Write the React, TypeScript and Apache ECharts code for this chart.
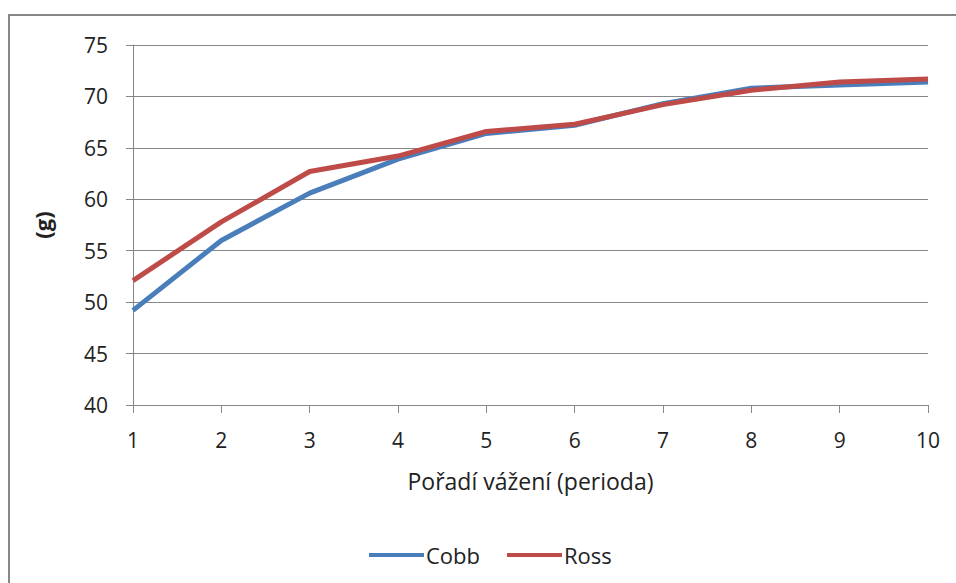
import React, { useEffect, useRef } from "react";
import * as echarts from "echarts";

const periods = ["1", "2", "3", "4", "5", "6", "7", "8", "9", "10"];
const cobb = [49.2, 56.0, 60.6, 63.9, 66.4, 67.2, 69.3, 70.8, 71.1, 71.4];
const ross = [52.1, 57.8, 62.7, 64.2, 66.6, 67.3, 69.2, 70.6, 71.4, 71.7];
const seriesNames = ["Cobb", "Ross"];
const colors = ["#4a7ebb", "#be4b48"];
const xTitle = "Pořadí vážení (perioda)";
const yTitle = "(g)";

const FONT = "Open Sans";

export default function App() {
  const ref = useRef<HTMLDivElement>(null);
  useEffect(() => {
    if (!ref.current) return;
    const chart = echarts.init(ref.current, null, { renderer: "svg" });
    chart.setOption({
      animation: false,
      backgroundColor: "#ffffff",
      textStyle: { fontFamily: FONT },
      graphic: [
        {
          type: "rect",
          shape: { x: 9, y: 15, width: 1000, height: 700 },
          style: { fill: "none", stroke: "#878787", lineWidth: 2 },
          silent: true,
          z: -1,
        },
      ],
      grid: { left: 133, right: 28, top: 45, bottom: 178, containLabel: false },
      legend: {
        left: 364,
        top: 539,
        icon: "rect",
        itemWidth: 55,
        itemHeight: 4,
        itemGap: 27,
        textStyle: { fontFamily: FONT, fontSize: 22, color: "#222", padding: [0, 0, 0, -3] },
        data: seriesNames,
      },
      xAxis: {
        type: "category",
        boundaryGap: false,
        data: periods,
        name: xTitle,
        nameLocation: "middle",
        nameGap: 64,
        nameTextStyle: { fontFamily: FONT, fontSize: 23, color: "#222" },
        axisLine: { lineStyle: { color: "#868686", width: 1 } },
        axisTick: { show: true, length: 8, lineStyle: { color: "#868686" } },
        axisLabel: { fontFamily: FONT, fontSize: 21, color: "#222", margin: 24 },
        splitLine: { show: false },
      },
      yAxis: {
        type: "value",
        min: 40,
        max: 75,
        interval: 5,
        name: yTitle,
        nameLocation: "middle",
        nameGap: 80,
        nameRotate: 90,
        nameTextStyle: { fontFamily: FONT, fontSize: 22, fontWeight: "bold", color: "#222" },
        axisLine: { show: true, lineStyle: { color: "#868686", width: 1 } },
        axisTick: { show: true, length: 7, lineStyle: { color: "#868686" } },
        axisLabel: { fontFamily: FONT, fontSize: 21, color: "#222", margin: 25 },
        splitLine: { show: true, lineStyle: { color: "#868686", width: 1 } },
      },
      series: [
        {
          name: seriesNames[0],
          type: "line",
          data: cobb,
          symbol: "none",
          lineStyle: { color: colors[0], width: 5 },
          itemStyle: { color: colors[0] },
        },
        {
          name: seriesNames[1],
          type: "line",
          data: ross,
          symbol: "none",
          lineStyle: { color: colors[1], width: 5 },
          itemStyle: { color: colors[1] },
        },
      ],
    });
    return () => chart.dispose();
  }, []);
  return (
    <div
      ref={ref}
      style={{ position: "fixed", left: 0, top: 0, width: 956, height: 583 }}
    />
  );
}
